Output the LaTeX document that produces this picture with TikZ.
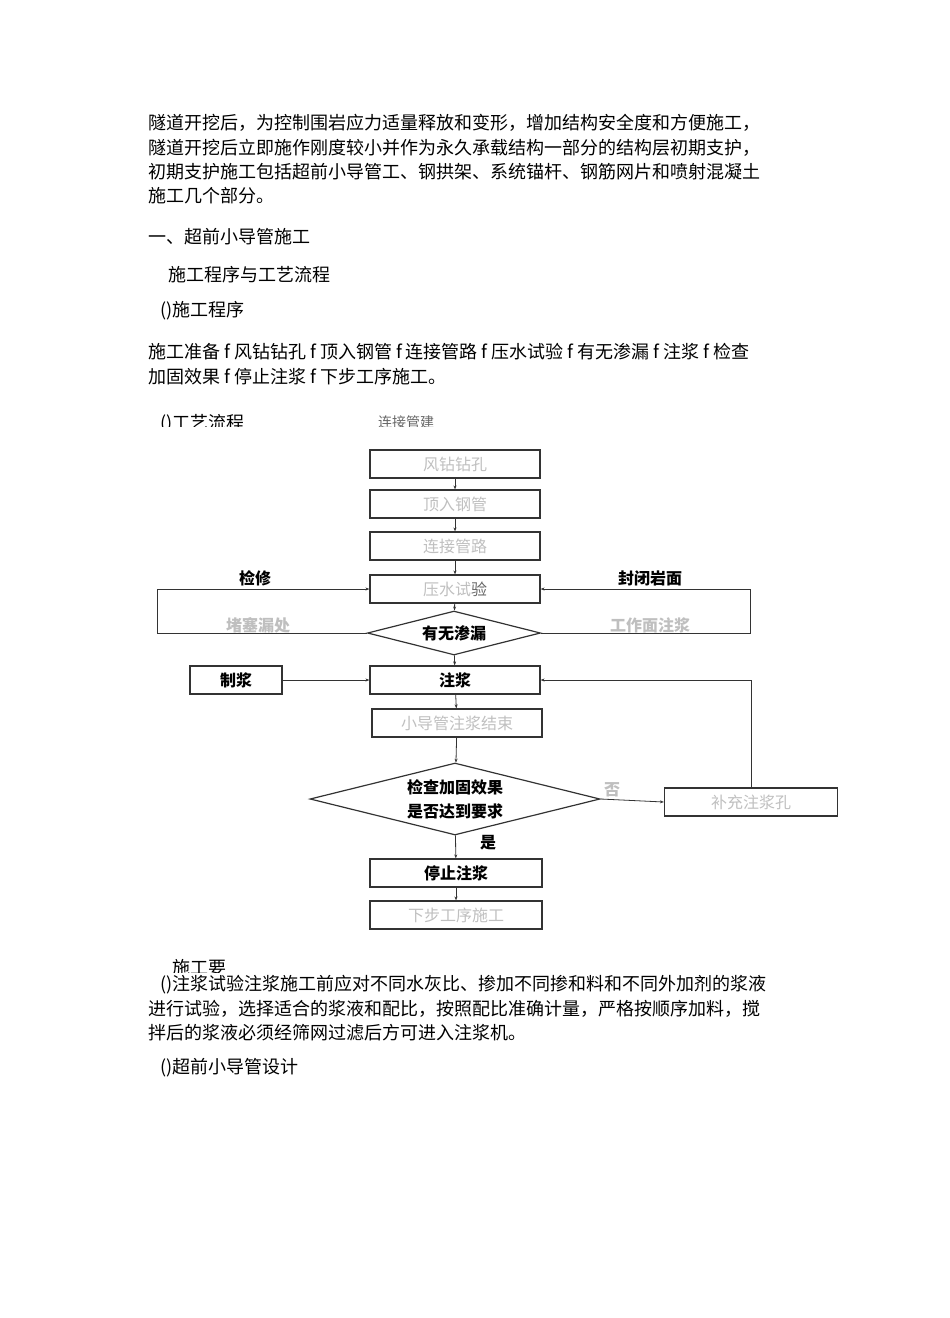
\documentclass[tikz,border=0pt]{standalone}
\usepackage{fontspec}
\setmainfont{Noto Sans CJK SC}
\usetikzlibrary{arrows.meta,shapes.geometric}
\begin{document}
\begin{tikzpicture}[x=1pt,y=-1pt,
  bx/.style={draw=black!80,line width=1.2pt,minimum height=28pt,inner sep=0pt},
  tx/.style={anchor=west,font=\fontsize{18}{20}\selectfont,inner sep=0pt},
  ar/.style={-{Stealth[length=4pt]},line width=0.8pt,draw=black!80},
  lb/.style={font=\fontsize{16}{18}\selectfont\bfseries}]
\useasboundingbox (0,0) rectangle (950,1318);
\node[tx] (p1) at (148,123) {隧道开挖后，为控制围岩应力适量释放和变形，增加结构安全度和方便施工，};
\node[tx] (p2) at (148,148) {隧道开挖后立即施作刚度较小并作为永久承载结构一部分的结构层初期支护，};
\node[tx] (p3) at (148,172) {初期支护施工包括超前小导管工、钢拱架、系统锚杆、钢筋网片和喷射混凝土};
\node[tx] (p4) at (148,196) {施工几个部分。};
\node[tx] (p5) at (148,237) {一、超前小导管施工};
\node[tx] (p6) at (168,275) {施工程序与工艺流程};
\node[tx] (p7) at (160,311) {()施工程序};
\node[tx] (p8) at (148,352) {施工准备 f 风钻钻孔 f 顶入钢管 f 连接管路 f 压水试验 f 有无渗漏 f 注浆 f 检查};
\node[tx] (p9) at (148,377) {加固效果 f 停止注浆 f 下步工序施工。};
\begin{scope}
\clip (0,410) rectangle (950,426);
\node[tx] (t1) at (160,424) {()工艺流程};
\node[tx,font=\fontsize{14}{16}\selectfont,text=black!60] (t2) at (378,422) {连接管建};
\end{scope}
\node[bx,minimum width=170pt] (a) at (455,464) {\fontsize{16}{18}\selectfont\textcolor{black!25}{风钻钻孔}};
\node[bx,minimum width=170pt] (b) at (455,504) {\fontsize{16}{18}\selectfont\textcolor{black!25}{顶入钢管}};
\node[bx,minimum width=170pt] (c) at (455,546) {\fontsize{16}{18}\selectfont\textcolor{black!25}{连接管路}};
\node[bx,minimum width=170pt] (d) at (455,589) {\fontsize{16}{18}\selectfont\textcolor{black!25}{压水试}\textcolor{black!60}{验}};
\node[diamond,draw=black!80,line width=1.2pt,minimum width=173pt,minimum height=44pt,inner sep=0pt,aspect=4] (e) at (454,633) {\fontsize{16}{18}\selectfont\bfseries 有无渗漏};
\node[bx,minimum width=92pt] (z) at (236,680) {\fontsize{16}{18}\selectfont\bfseries 制浆};
\node[bx,minimum width=170pt] (f) at (455,680) {\fontsize{16}{18}\selectfont\bfseries 注浆};
\node[bx,minimum width=170pt] (g) at (457,723) {\fontsize{16}{18}\selectfont\textcolor{black!25}{小导管注浆结束}};
\node[diamond,draw=black!80,line width=1.2pt,minimum width=290pt,minimum height=72pt,inner sep=0pt,aspect=4,align=center,font=\fontsize{16}{24}\selectfont\bfseries] (h) at (455,799) {检查加固效果\\是否达到要求};
\node[bx,minimum width=173pt] (k) at (751,802) {\fontsize{16}{18}\selectfont\textcolor{black!25}{补充注浆孔}};
\node[bx,minimum width=172pt] (m) at (456,873) {\fontsize{16}{18}\selectfont\bfseries 停止注浆};
\node[bx,minimum width=172pt] (n) at (456,915) {\fontsize{16}{18}\selectfont\textcolor{black!25}{下步工序施工}};
\draw[ar] (a) -- (b);
\draw[ar] (b) -- (c);
\draw[ar] (c) -- (d);
\draw[ar] (d) -- (e);
\draw[ar] (e) -- (f);
\draw[ar] (z) -- (f);
\draw[ar] (f) -- (g);
\draw[ar] (g) -- (h);
\draw[ar] (h) -- (m);
\draw[ar] (m) -- (n);
\draw[ar] (h.east) -- (k.west);
\draw[ar] (k.north) |- (f.east);
\draw[ar] (e.west) -- (157,633) |- (d.west);
\draw[ar] (e.east) -- (750,633) |- (d.east);
\node[lb] (l1) at (255,578) {检修};
\node[lb] (l2) at (650,578) {封闭岩面};
\node[lb,text=black!25] (l3) at (258,625) {堵塞漏处};
\node[lb,text=black!25] (l4) at (650,625) {工作面注浆};
\node[lb,text=black!25] (l5) at (612,790) {否};
\node[lb] (l6) at (488,843) {是};
\begin{scope}
\clip (0,953) rectangle (950,972);
\node[tx] (q0) at (172,968) {施工要};
\end{scope}
\node[tx] (q1) at (160,985) {()注浆试验注浆施工前应对不同水灰比、掺加不同掺和料和不同外加剂的浆液};
\node[tx] (q2) at (148,1009) {进行试验，选择适合的浆液和配比，按照配比准确计量，严格按顺序加料，搅};
\node[tx] (q3) at (148,1033) {拌后的浆液必须经筛网过滤后方可进入注浆机。};
\node[tx] (q4) at (160,1068) {()超前小导管设计};
\end{tikzpicture}
\end{document}
